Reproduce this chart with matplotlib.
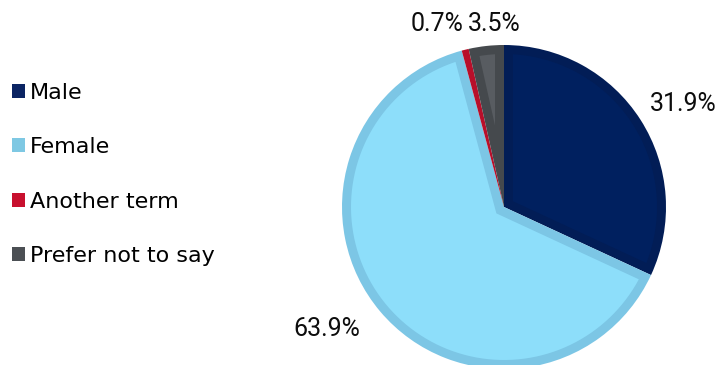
import numpy as np
import matplotlib.pyplot as plt
from matplotlib.patches import Patch, Wedge, Polygon

# Gender breakdown of respondents
labels = ['Male', 'Female', 'Another term', 'Prefer not to say']
shares = [31.9, 63.9, 0.7, 3.5]
fill_colors = ['#00205F', '#8DDEFA', '#C8102E', '#585C61']
edge_colors = ['#021D56', '#7CC6E5', '#B80F2A', '#45494D']
legend_colors = ['#0B2463', '#7EC8E3', '#C8102E', '#4B4F54']

# label offsets (in pie radii) for the percentage text
label_pos = [(1.105, 0.636), (-1.093, -0.753), (-0.414, 1.13), (-0.062, 1.13)]

fig = plt.figure(figsize=(7.24, 3.65), dpi=100)
ax = fig.add_axes([0, 0, 1, 1])
ax.set_xlim(0, 724)
ax.set_ylim(0, 365)
ax.set_aspect('equal')
ax.axis('off')

cx, cy, r = 504, 158, 162
border = 9


def inset_wedge(a1, a2, R, d):
    """Polygon of a wedge shrunk inwards by d on every side."""
    half = np.radians(a2 - a1) / 2
    mid = np.radians(a1 + a2) / 2
    da = np.degrees(np.arcsin(d / (R - d)))
    if a2 - a1 <= 2 * da:
        return None
    t = d / np.sin(half)
    tip = (cx + t * np.cos(mid), cy + t * np.sin(mid))
    arc = np.radians(np.linspace(a1 + da, a2 - da, 100))
    pts = [tip] + [(cx + (R - d) * np.cos(a), cy + (R - d) * np.sin(a)) for a in arc]
    return pts


# clockwise from 12 o'clock
ang = 90.0
for val, fc, ec in zip(shares, fill_colors, edge_colors):
    sweep = val / sum(shares) * 360
    a1, a2 = ang - sweep, ang
    ax.add_patch(Wedge((cx, cy), r, a1, a2, facecolor=ec, edgecolor='none'))
    pts = inset_wedge(a1, a2, r, border)
    if pts is not None:
        ax.add_patch(Polygon(pts, closed=True, facecolor=fc, edgecolor='none'))
    ang = a1

for val, (dx, dy) in zip(shares, label_pos):
    ax.text(cx + dx * r, cy + dy * r, f'{val:.1f}%', ha='center', va='center',
            fontsize=18, family=['Roboto', 'DejaVu Sans'], color='#0D0D0D')

handles = [Patch(facecolor=c, edgecolor='none') for c in legend_colors]
fig.legend(handles, labels, loc='upper left', bbox_to_anchor=(0.0166, 0.773),
           frameon=False, borderpad=0, borderaxespad=0,
           handlelength=0.59, handleheight=0.59,
           handletextpad=0.23, labelspacing=1.55,
           prop={'family': ['DejaVu Sans'], 'size': 16})

fig.savefig('out.png', dpi=100)
